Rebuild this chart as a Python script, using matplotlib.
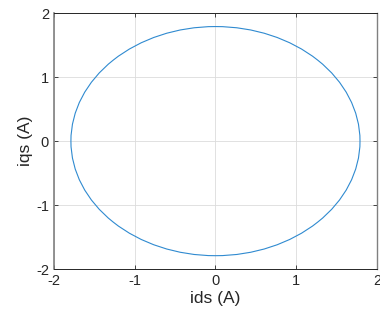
import matplotlib
matplotlib.use("Agg")
import matplotlib.pyplot as plt
from matplotlib.patches import Circle

center = (0.0, 0.0)
radius = 1.79
xticks = [-2, -1, 0, 1, 2]
yticks = [-2, -1, 0, 1, 2]
xlabel = "ids (A)"
ylabel = "iqs (A)"

plt.rcParams['font.family'] = ['Liberation Sans', 'DejaVu Sans']

fig = plt.figure(figsize=(3.8, 3.2), dpi=100)
ax = fig.add_axes([0.142, 0.159, 0.850, 0.800])
ax.add_patch(Circle(center, radius, fill=False, edgecolor='#2f8ad0', linewidth=0.8))
ax.set_xlim(-2, 2)
ax.set_ylim(-2, 2)
ax.set_xticks(xticks)
ax.set_yticks(yticks)
ax.set_xticklabels([str(t) for t in xticks])
ax.set_yticklabels([str(t) for t in yticks])
ax.grid(True, color='#dcdcdc', linewidth=0.6)
ax.set_axisbelow(True)
ax.tick_params(direction='in', length=3, width=0.6, colors='#262626', labelsize=10.5, top=True, right=True, labeltop=False, labelright=False)
for s in ax.spines.values():
    s.set_color('#262626')
    s.set_linewidth(0.7)
ax.spines['left'].set_color('#808080')
ax.spines['left'].set_linewidth(1.2)
ax.spines['right'].set_color('#808080')
ax.spines['right'].set_linewidth(1.0)
ax.set_xlabel(xlabel, fontsize=12.5, color='#262626', labelpad=2)
ax.set_ylabel(ylabel, fontsize=12.5, color='#262626', labelpad=2)
fig.savefig("out.png", dpi=100)
